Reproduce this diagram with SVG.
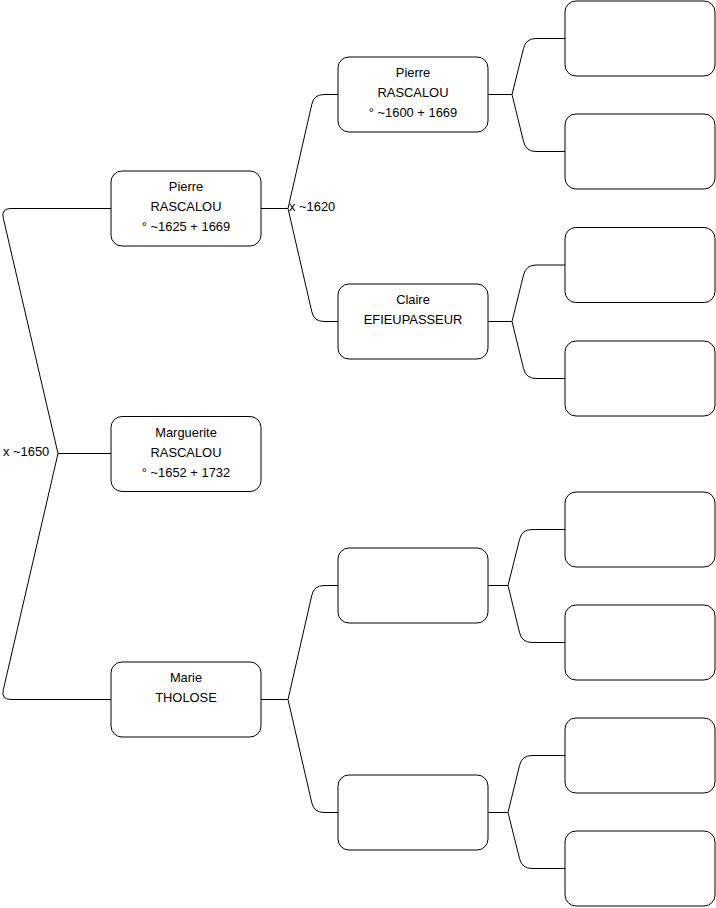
<svg xmlns="http://www.w3.org/2000/svg" width="716" height="908" viewBox="0 0 716 908">
<style>
.box{fill:#fff;stroke:#000;stroke-width:1}
.edge{fill:none;stroke:#000;stroke-width:1}
text{font-family:"Liberation Sans",Arial,Helvetica,sans-serif;font-size:12.9px;fill:#000}
.c{text-anchor:middle}
</style>
<rect width="716" height="908" fill="#fff"/>
<g id="connectors">
<path class="edge" d="M111 453.5 L58 453.5 L3.3 218.2 Q1 208.5 11 208.5 L111 208.5"/>
<path class="edge" d="M58 453.5 L3.3 689.8 Q1 699.5 11 699.5 L111 699.5"/>
<path class="edge" d="M261 208.5 L288 208.5 L311.8 104.3 Q314 94.5 324 94.5 L338 94.5"/>
<path class="edge" d="M288 208.5 L311.8 311.8 Q314 321.5 324 321.5 L338 321.5"/>
<path class="edge" d="M261 699.5 L288 699.5 L311.8 595.3 Q314 585.5 324 585.5 L338 585.5"/>
<path class="edge" d="M288 699.5 L311.8 802.8 Q314 812.5 324 812.5 L338 812.5"/>
<path class="edge" d="M488 94.5 L512 94.5 L523.6 48.2 Q526 38.5 536 38.5 L565 38.5"/>
<path class="edge" d="M512 94.5 L523.6 141.8 Q526 151.5 536 151.5 L565 151.5"/>
<path class="edge" d="M488 321.5 L512 321.5 L523.6 274.7 Q526 265 536 265 L565 265"/>
<path class="edge" d="M512 321.5 L523.6 368.8 Q526 378.5 536 378.5 L565 378.5"/>
<path class="edge" d="M488 585.5 L508 585.5 L519.6 539.2 Q522 529.5 532 529.5 L565 529.5"/>
<path class="edge" d="M508 585.5 L519.6 632.8 Q522 642.5 532 642.5 L565 642.5"/>
<path class="edge" d="M488 812.5 L508 812.5 L519.6 765.2 Q522 755.5 532 755.5 L565 755.5"/>
<path class="edge" d="M508 812.5 L519.6 858.8 Q522 868.5 532 868.5 L565 868.5"/>
<text x="289" y="211">x ~1620</text>
<text x="3" y="456">x ~1650</text>
</g>
<g id="n-pierre1">
<rect class="box" x="111" y="171" width="150" height="75" rx="11"/>
<text class="c" x="186" y="191">Pierre</text>
<text class="c" x="186" y="211">RASCALOU</text>
<text class="c" x="186" y="231">° ~1625 + 1669</text>
</g>
<g id="n-marguerite">
<rect class="box" x="111" y="416.5" width="150" height="75" rx="11"/>
<text class="c" x="186" y="437">Marguerite</text>
<text class="c" x="186" y="457">RASCALOU</text>
<text class="c" x="186" y="477">° ~1652 + 1732</text>
</g>
<g id="n-marie">
<rect class="box" x="111" y="662" width="150" height="75" rx="11"/>
<text class="c" x="186" y="682">Marie</text>
<text class="c" x="186" y="702">THOLOSE</text>
</g>
<g id="n-pierre2">
<rect class="box" x="338" y="57" width="150" height="75" rx="11"/>
<text class="c" x="413" y="77">Pierre</text>
<text class="c" x="413" y="97">RASCALOU</text>
<text class="c" x="413" y="117">° ~1600 + 1669</text>
</g>
<g id="n-claire">
<rect class="box" x="338" y="284" width="150" height="75" rx="11"/>
<text class="c" x="413" y="304">Claire</text>
<text class="c" x="413" y="324">EFIEUPASSEUR</text>
</g>
<g id="n-empty1"><rect class="box" x="338" y="548" width="150" height="75" rx="11"/></g>
<g id="n-empty2"><rect class="box" x="338" y="775" width="150" height="75" rx="11"/></g>
<g id="n-g1"><rect class="box" x="565" y="1" width="150" height="75" rx="11"/></g>
<g id="n-g2"><rect class="box" x="565" y="114" width="150" height="75" rx="11"/></g>
<g id="n-g3"><rect class="box" x="565" y="227.5" width="150" height="75" rx="11"/></g>
<g id="n-g4"><rect class="box" x="565" y="341" width="150" height="75" rx="11"/></g>
<g id="n-g5"><rect class="box" x="565" y="492" width="150" height="75" rx="11"/></g>
<g id="n-g6"><rect class="box" x="565" y="605" width="150" height="75" rx="11"/></g>
<g id="n-g7"><rect class="box" x="565" y="718" width="150" height="75" rx="11"/></g>
<g id="n-g8"><rect class="box" x="565" y="831" width="150" height="75" rx="11"/></g>
</svg>
